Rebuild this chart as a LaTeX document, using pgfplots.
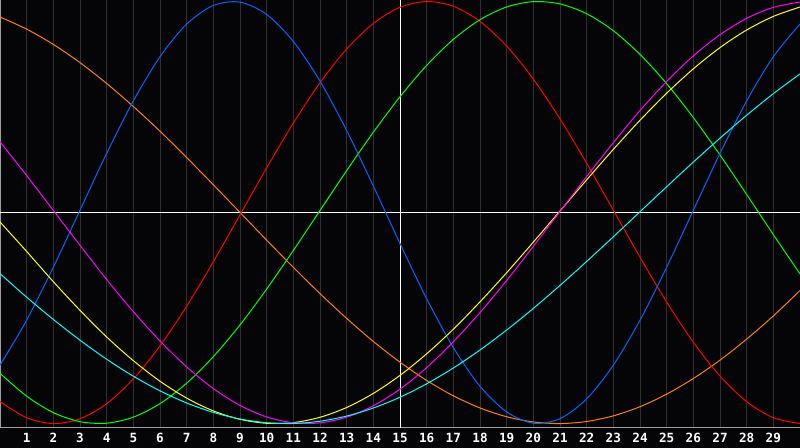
\documentclass[border=0pt]{standalone}
\usepackage{fontspec}
\usepackage{pgfplots}
\pgfplotsset{compat=1.18}
\newfontfamily\tickfont{DejaVu Sans Mono}

\definecolor{bg}{rgb}{0.02,0.02,0.03}
\definecolor{gridgray}{rgb}{0.19,0.19,0.19}
\definecolor{cOrange}{rgb}{1,0.5,0}
\definecolor{cBlue}{rgb}{0,0.4,1}
\definecolor{cRed}{rgb}{1,0,0}
\definecolor{cGreen}{rgb}{0,1,0}
\definecolor{cYellow}{rgb}{1,1,0}
\definecolor{cMagenta}{rgb}{1,0,1}
\definecolor{cCyan}{rgb}{0,1,1}

\begin{document}
\begin{tikzpicture}
\fill[bg] (0,-15pt) rectangle (600pt,321pt);
\begin{axis}[
  at={(0,0)}, anchor=south west,
  width=600pt, height=321pt, scale only axis,
  xmin=0, xmax=30, ymin=-1.021, ymax=1.007,
  axis background/.style={fill=bg},
  axis line style={gray!75, line width=0.75pt},
  xtick={1,...,29}, ytick=\empty,
  major tick length=0pt,
  /pgf/number format/assume math mode=true,
  xmajorgrids, major grid style={gridgray, line width=0.75pt},
  extra x ticks={15}, extra x tick labels={},
  extra x tick style={major grid style={white, line width=0.75pt}},
  extra y ticks={0}, extra y tick labels={},
  extra y tick style={grid=major, major grid style={white, line width=0.75pt}},
  xticklabel style={font=\tickfont\bfseries\fontsize{9.5}{10}\selectfont,
    text=white, anchor=north, inner sep=0pt, yshift=-4pt},
  no markers,
  every axis plot/.append style={line width=0.75pt, smooth},
]
% orange
\addplot[cOrange] coordinates {
(0,0.9264)(1,0.8690)(2,0.7965)(3,0.7103)(4,0.6115)(5,0.5023)(6,0.3853)(7,0.2606)
(8,0.1316)(9,0.0004)(10,-0.1308)(11,-0.2599)(12,-0.3842)(13,-0.5017)(14,-0.6110)
(15,-0.7092)(16,-0.7956)(17,-0.8686)(18,-0.9261)(19,-0.9677)(20,-0.9924)(21,-1.0000)
(22,-0.9903)(23,-0.9635)(24,-0.9202)(25,-0.8606)(26,-0.7866)(27,-0.6995)(28,-0.5997)
(29,-0.4900)(30,-0.3696)};
% red
\addplot[cRed] coordinates {
(0,-0.8960)(1,-0.9723)(2,-1.0000)(3,-0.9775)(4,-0.9057)(5,-0.7887)(6,-0.6322)
(7,-0.4440)(8,-0.2334)(9,-0.0112)(10,0.2116)(11,0.4238)(12,0.6148)(13,0.7746)
(14,0.8960)(15,0.9723)(16,0.9999)(17,0.9775)(18,0.9057)(19,0.7887)(20,0.6322)
(21,0.4440)(22,0.2334)(23,0.0112)(24,-0.2116)(25,-0.4238)(26,-0.6148)(27,-0.7746)
(28,-0.8960)(29,-0.9723)(30,-0.9999)};
% green
\addplot[cGreen] coordinates {
(0,-0.7619)(1,-0.8703)(2,-0.9480)(3,-0.9911)(4,-0.9982)(5,-0.9697)(6,-0.9056)
(7,-0.8090)(8,-0.6831)(9,-0.5327)(10,-0.3628)(11,-0.1799)(12,0.0095)(13,0.1986)
(14,0.3805)(15,0.5485)(16,0.6970)(17,0.8203)(18,0.9136)(19,0.9739)(20,0.9993)
(21,0.9884)(22,0.9419)(23,0.8614)(24,0.7494)(25,0.6107)(26,0.4498)(27,0.2726)
(28,0.0856)(29,-0.1045)(30,-0.2908)};
% blue
\addplot[cBlue] coordinates {
(0,-0.7234)(1,-0.5102)(2,-0.2593)(3,0.0109)(4,0.2803)(5,0.5289)(6,0.7382)
(7,0.8929)(8,0.9812)(9,0.9969)(10,0.9385)(11,0.8105)(12,0.6228)(13,0.3887)
(14,0.1254)(15,-0.1468)(16,-0.4084)(17,-0.6398)(18,-0.8230)(19,-0.9448)(20,-0.9982)
(21,-0.9768)(22,-0.8829)(23,-0.7234)(24,-0.5103)(25,-0.2594)(26,0.0108)(27,0.2801)
(28,0.5288)(29,0.7381)(30,0.8929)};
% yellow
\addplot[cYellow] coordinates {
(0,-0.0450)(1,-0.1844)(2,-0.3277)(3,-0.4634)(4,-0.5898)(5,-0.7019)(6,-0.7993)
(7,-0.8793)(8,-0.9400)(9,-0.9800)(10,-0.9987)(11,-0.9954)(12,-0.9703)(13,-0.9239)
(14,-0.8572)(15,-0.7718)(16,-0.6694)(17,-0.5530)(18,-0.4234)(19,-0.2852)(20,-0.1403)
(21,0.0074)(22,0.1549)(23,0.2992)(24,0.4371)(25,0.5653)(26,0.6809)(27,0.7815)
(28,0.8648)(29,0.9292)(30,0.9737)};
% magenta
\addplot[cMagenta] coordinates {
(0,0.3354)(1,0.1753)(2,0.0100)(3,-0.1555)(4,-0.3173)(5,-0.4697)(6,-0.6085)
(7,-0.7316)(8,-0.8343)(9,-0.9140)(10,-0.9685)(11,-0.9963)(12,-0.9968)(13,-0.9697)
(14,-0.9160)(15,-0.8370)(16,-0.7350)(17,-0.6124)(18,-0.4741)(19,-0.3220)(20,-0.1604)
(21,0.0050)(22,0.1704)(23,0.3308)(24,0.4832)(25,0.6207)(26,0.7422)(27,0.8426)
(28,0.9200)(29,0.9721)(30,0.9975)};
% cyan
\addplot[cCyan] coordinates {
(0,-0.2894)(1,-0.4013)(2,-0.5066)(3,-0.6048)(4,-0.6953)(5,-0.7756)(6,-0.8449)
(7,-0.9024)(8,-0.9471)(9,-0.9785)(10,-0.9960)(11,-0.9996)(12,-0.9890)(13,-0.9645)
(14,-0.9263)(15,-0.8752)(16,-0.8117)(17,-0.7367)(18,-0.6515)(19,-0.5568)(20,-0.4544)
(21,-0.3454)(22,-0.2319)(23,-0.1150)(24,0.0036)(25,0.1222)(26,0.2389)(27,0.3522)
(28,0.4610)(29,0.5631)(30,0.6567)};
\end{axis}
\pgfresetboundingbox
\path (0,-15pt) rectangle (600pt,321pt);
\end{tikzpicture}
\end{document}
